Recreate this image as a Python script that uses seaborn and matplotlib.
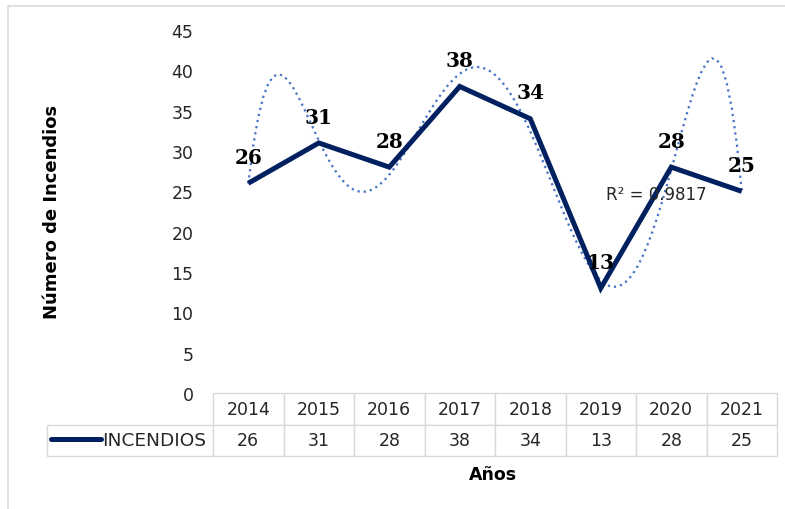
import numpy as np
import pandas as pd
import seaborn as sns
import matplotlib
matplotlib.use('Agg')
import matplotlib.pyplot as plt
from matplotlib.lines import Line2D
from matplotlib.patches import Rectangle
from matplotlib.table import Table

# data
years = ['2014', '2015', '2016', '2017', '2018', '2019', '2020', '2021']
incendios = [26, 31, 28, 38, 34, 13, 28, 25]
series_name = 'INCENDIOS'
r2_text = 'R\u00b2 = 0.9817'

LINE_COLOR = '#002060'
TREND_COLOR = '#4472C4'
GRID_GRAY = '#d9d9d9'
TEXT_COLOR = '#262626'

sns.set_style('white')
plt.rcParams['font.family'] = ['DejaVu Sans']

df = pd.DataFrame({'pos': np.arange(len(years)), 'value': incendios})

fig = plt.figure(figsize=(7.85, 5.1), dpi=100)
W, H = 785, 510
ax = fig.add_axes([213 / W, 1 - 394 / H, 564 / W, (394 - 31) / H])

# 6th order polynomial trendline (Excel style)
sns.regplot(data=df, x='pos', y='value', order=6, ci=None, scatter=False,
            ax=ax, line_kws=dict(color=TREND_COLOR, lw=1.6, ls=(0, (1, 1.8))))
sns.lineplot(data=df, x='pos', y='value', ax=ax, color=LINE_COLOR, lw=3.6,
             solid_joinstyle='miter', solid_capstyle='butt')

for p, v in zip(df['pos'], df['value']):
    ax.annotate(str(v), (p, v), xytext=(0, 19), textcoords='offset points',
                ha='center', va='center', fontsize=14.5, fontweight='bold',
                family='DejaVu Serif', color='black')

ax.text(5.08, 24.7, r2_text, fontsize=12, color=TEXT_COLOR,
        ha='left', va='center')

ax.set_xlim(-0.5, len(years) - 0.5)
ax.set_ylim(0, 45)
ax.set_yticks(range(0, 46, 5))
ax.set_xticks([])
ax.set_xlabel('')
ax.set_ylabel('')
ax.tick_params(axis='y', length=0, labelsize=12.5, labelcolor=TEXT_COLOR, pad=14)
for s in ax.spines.values():
    s.set_visible(False)

# data table under the plot (axes fraction units)
ax_w, ax_h = 564, 363
cw = 70.5 / ax_w
rh = 31.5 / ax_h
tbl = Table(ax)
for i, yr in enumerate(years):
    tbl.add_cell(0, i + 1, cw, rh, text=yr, loc='center')
    tbl.add_cell(1, i + 1, cw, rh, text=str(incendios[i]), loc='center')
tbl.add_cell(1, 0, 166 / ax_w, rh, text='', loc='center')
tbl.auto_set_font_size(False)
for (r, c), cell in tbl.get_celld().items():
    cell.set_edgecolor(GRID_GRAY)
    cell.set_linewidth(1.0)
    cell.get_text().set_fontsize(12.5)
    cell.get_text().set_color(TEXT_COLOR)
tbl._bbox = [(47 - 213) / ax_w, -63 / ax_h, 730 / ax_w, 63 / ax_h]
ax.add_table(tbl)

handle = Line2D([], [], color=LINE_COLOR, lw=3.6)
fig.legend([handle], [series_name], loc='center left',
           bbox_to_anchor=(51 / W, 1 - 441 / H), frameon=False,
           handlelength=2.7, handletextpad=0.05, borderpad=0, borderaxespad=0,
           prop={'size': 13.3})

fig.text(52 / W, 1 - 212 / H, 'N\u00famero de Incendios', rotation=90,
         ha='center', va='center', fontsize=13, fontweight='bold', color='black')
fig.text(493 / W, 1 - 475 / H, 'A\u00f1os', ha='center', va='center',
         fontsize=12.5, fontweight='bold', color='black')

# chart area border (cropped at right/bottom like the reference)
fig.patches.append(Rectangle((8 / W, -0.1), 1.2, 1 - 7 / H + 0.1,
                             transform=fig.transFigure, fill=False,
                             edgecolor=GRID_GRAY, lw=1.2))

fig.savefig('out.png', dpi=100)
